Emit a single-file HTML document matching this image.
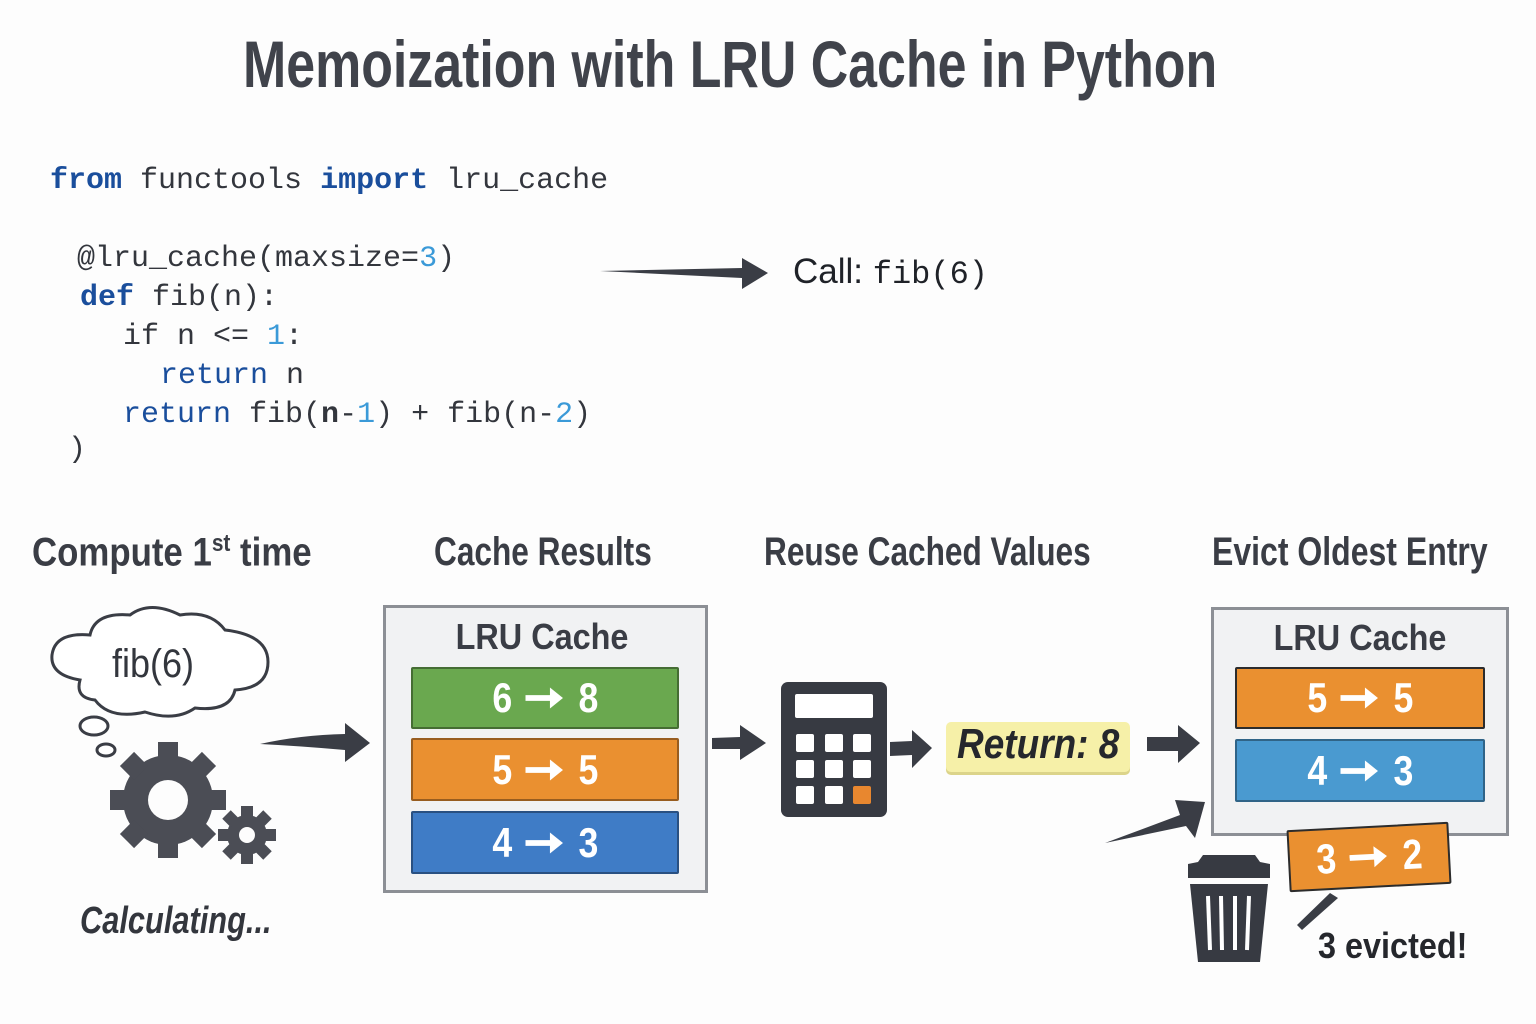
<!DOCTYPE html>
<html><head><meta charset="utf-8"><style>
body{margin:0;width:1536px;height:1024px;background:#fdfdfd;position:relative;overflow:hidden;font-family:"Liberation Sans",sans-serif;color:#3a3d45}
.a{position:absolute}
.t{font-weight:bold;white-space:nowrap}
.sx{transform-origin:0 0}
.code{font-family:"Liberation Mono",monospace;font-size:30px;color:#33363d;white-space:pre}
.k{color:#1a4e9c;font-weight:bold}
.n{color:#3b9ad8}
.box{background:#f1f2f3;border:3px solid #8c8f95;box-sizing:border-box}
.row{position:absolute;color:#fff;font-weight:bold;font-size:42px;text-align:center;box-sizing:border-box;border:2px solid rgba(0,0,0,.35);border-radius:2px}
.row span{display:inline-block;transform:scaleX(.85)}
.ar{display:inline-block;vertical-align:middle;margin:0 16px;position:relative;top:-3px}
</style></head><body>
<div class="a t sx" style="left:243px;top:26px;font-size:66px;color:#40434b;transform:scaleX(.786)">Memoization with LRU Cache in Python</div>

<div class="a code" style="left:50px;top:164px"><span class="k">from</span> functools <span class="k">import</span> lru_cache</div>
<div class="a code" style="left:77px;top:242px">@lru_cache(maxsize=<span class="n">3</span>)</div>
<div class="a code" style="left:80px;top:281px"><span class="k">def</span> fib(n):</div>
<div class="a code" style="left:123px;top:320px">if n &lt;= <span class="n">1</span>:</div>
<div class="a code" style="left:160px;top:359px"><span style="color:#1a4e9c">return</span> n</div>
<div class="a code" style="left:123px;top:398px"><span style="color:#1a4e9c">return</span> fib(<b>n</b>-<span class="n">1</span>) + fib(n-<span class="n">2</span>)</div>
<div class="a code" style="left:68px;top:433px">)</div>

<svg class="a" style="left:0;top:0" width="1536" height="1024">
<path d="M600 271 L742 268 L742 258 L768 273 L742 289 L742 278 Z" fill="#3a3d45"/>
<path d="M260 744 Q300 735 345 734 L345 723 L370 743 L345 762 L345 750 Q300 746 260 744Z" fill="#3a3d45"/>
<path d="M712 738 L740 737 L740 725 L766 743 L740 760 L740 749 L712 749Z" fill="#3a3d45"/>
<path d="M890 742 L912 741 L912 730 L932 748 L912 768 L912 755 L890 756Z" fill="#3a3d45"/>
<path d="M1147 737 L1178 737 L1178 725 L1200 743 L1178 763 L1178 751 L1147 751Z" fill="#3a3d45"/>
<path d="M1105 843 L1180 815 L1175 800 L1205 802 L1195 838 L1186 826 Z" fill="#3a3d45"/>
<path d="M1297 925 L1330 893 L1338 898 L1302 930Z" fill="#3a3d45"/>
<path d="M80 680 Q50 675 52 655 Q55 632 90 635 Q95 612 130 615 Q150 600 180 615 Q210 610 225 630 Q268 635 268 662 Q268 688 235 690 Q230 712 195 708 Q175 722 145 712 Q110 720 95 700 Q75 698 80 680Z" fill="#fff" stroke="#3a3d45" stroke-width="3"/>
<ellipse cx="94" cy="726" rx="14" ry="9" fill="#fff" stroke="#3a3d45" stroke-width="3"/>
<ellipse cx="106" cy="750" rx="9" ry="6" fill="#fff" stroke="#3a3d45" stroke-width="3"/>
<g transform="translate(168,800)" fill="#4b4d55">
<circle r="45"/>
<g id="tt"><rect x="-10" y="-58" width="20" height="20"/></g>
<use href="#tt" transform="rotate(45)"/><use href="#tt" transform="rotate(90)"/><use href="#tt" transform="rotate(135)"/><use href="#tt" transform="rotate(180)"/><use href="#tt" transform="rotate(225)"/><use href="#tt" transform="rotate(270)"/><use href="#tt" transform="rotate(315)"/>
<circle r="20" fill="#fdfdfd"/>
</g>
<g transform="translate(247,835)" fill="#4b4d55">
<circle r="20"/>
<g id="t2"><rect x="-6" y="-29" width="12" height="12"/></g>
<use href="#t2" transform="rotate(45)"/><use href="#t2" transform="rotate(90)"/><use href="#t2" transform="rotate(135)"/><use href="#t2" transform="rotate(180)"/><use href="#t2" transform="rotate(225)"/><use href="#t2" transform="rotate(270)"/><use href="#t2" transform="rotate(315)"/>
<circle r="8" fill="#fdfdfd"/>
</g>
<rect x="781" y="682" width="106" height="135" rx="7" fill="#373a42"/>
<rect x="795" y="694" width="78" height="24" rx="2" fill="#fff"/>
<g fill="#fff">
<rect x="796" y="734" width="18" height="18" rx="2"/><rect x="825" y="734" width="18" height="18" rx="2"/><rect x="853" y="734" width="18" height="18" rx="2"/>
<rect x="796" y="760" width="18" height="18" rx="2"/><rect x="825" y="760" width="18" height="18" rx="2"/><rect x="853" y="760" width="18" height="18" rx="2"/>
<rect x="796" y="786" width="18" height="18" rx="2"/><rect x="825" y="786" width="18" height="18" rx="2"/></g>
<rect x="853" y="786" width="18" height="18" rx="2" fill="#e8872f"/>
<path d="M1203 855 L1255 855 L1260 862 L1270 864 L1270 878 L1188 878 L1188 864 L1198 862Z" fill="#373a42"/>
<path d="M1190 884 L1268 884 L1260 962 L1198 962Z" fill="#373a42"/>
<g stroke="#fff" stroke-width="4"><line x1="1208" y1="896" x2="1210" y2="950"/><line x1="1221" y1="896" x2="1222" y2="950"/><line x1="1235" y1="896" x2="1235" y2="950"/><line x1="1249" y1="896" x2="1247" y2="950"/></g>
</svg>
<div class="a sx" style="left:112px;top:642px;font-size:40px;color:#33363d;transform:scaleX(.9)">fib(6)</div>
<div class="a t sx" style="left:80px;top:900px;font-size:38px;font-style:italic;color:#33363d;transform:scaleX(.81)">Calculating...</div>
<div class="a" style="left:793px;top:252px;font-size:35px;color:#1f2228;white-space:nowrap">Call: <span style="font-family:'Liberation Mono',monospace;font-size:32px">fib(6)</span></div>

<div class="a t sx" style="left:32px;top:530px;font-size:40px;transform:scaleX(.87)">Compute 1<sup style="font-size:24px">st</sup> time</div>
<div class="a t sx" style="left:434px;top:530px;font-size:40px;transform:scaleX(.79)">Cache Results</div>
<div class="a t sx" style="left:764px;top:530px;font-size:40px;transform:scaleX(.79)">Reuse Cached Values</div>
<div class="a t sx" style="left:1212px;top:530px;font-size:40px;transform:scaleX(.8)">Evict Oldest Entry</div>

<div class="a box" style="left:383px;top:605px;width:325px;height:288px"></div>
<div class="a t" style="left:383px;top:616px;width:318px;text-align:center;font-size:36px"><span style="display:inline-block;transform:scaleX(.9)">LRU Cache</span></div>
<svg width="0" height="0" style="position:absolute"><defs><symbol id="arw" viewBox="0 0 48 24"><path d="M0 9 L30 9 L30 1 L46 12 L30 23 L30 15 L0 15Z" fill="#fff"/></symbol></defs></svg>
<div class="row" style="left:411px;top:667px;width:268px;height:62px;background:#6aa84f;line-height:58px"><span>6<svg class="ar" width="46" height="24"><use href="#arw"/></svg>8</span></div>
<div class="row" style="left:411px;top:738px;width:268px;height:63px;background:#ea9030;line-height:59px"><span>5<svg class="ar" width="46" height="24"><use href="#arw"/></svg>5</span></div>
<div class="row" style="left:411px;top:811px;width:268px;height:63px;background:#3f7cc6;line-height:59px"><span>4<svg class="ar" width="46" height="24"><use href="#arw"/></svg>3</span></div>

<div class="a" style="left:946px;top:722px;width:184px;height:50px;background:#f6f0a8;border-radius:5px;box-shadow:0 3px 0 #dcd48a"></div>
<div class="a t" style="left:946px;top:720px;width:184px;text-align:center;font-size:42px;font-style:italic;color:#25272c"><span style="display:inline-block;transform:scaleX(.88)">Return: 8</span></div>

<div class="a box" style="left:1211px;top:607px;width:298px;height:229px"></div>
<div class="a t" style="left:1211px;top:617px;width:298px;text-align:center;font-size:36px"><span style="display:inline-block;transform:scaleX(.9)">LRU Cache</span></div>
<div class="row" style="left:1235px;top:667px;width:250px;height:62px;background:#ea9030;border-color:#2c2c2c;line-height:58px"><span>5<svg class="ar" width="46" height="24"><use href="#arw"/></svg>5</span></div>
<div class="row" style="left:1235px;top:739px;width:250px;height:63px;background:#4a9ad0;line-height:59px"><span>4<svg class="ar" width="46" height="24"><use href="#arw"/></svg>3</span></div>
<div class="row" style="left:1288px;top:826px;width:162px;height:62px;background:#ea9030;border-color:#2c2c2c;line-height:58px;transform:rotate(-3deg)"><span>3<svg class="ar" width="46" height="24"><use href="#arw"/></svg>2</span></div>
<div class="a t sx" style="left:1318px;top:925px;font-size:36px;color:#25272c;transform:scaleX(.9)">3 evicted!</div>
</body></html>
